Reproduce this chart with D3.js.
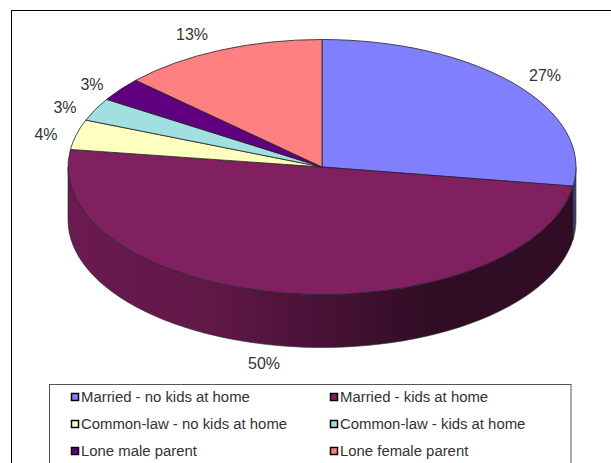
<!DOCTYPE html>
<html>
<head>
<meta charset="utf-8">
<script src="https://cdn.jsdelivr.net/npm/d3@7"></script>
<style>
  html, body { margin: 0; padding: 0; background: #fff; overflow: hidden; }
  svg { display: block; }
  text { font-family: "Liberation Sans", Arial, sans-serif; fill: #333; }
  .pct { font-size: 16px; }
  .item text { font-size: 14.9px; }
</style>
</head>
<body>
<div id="chart"></div>
<script>
var categories = ['Married - no kids at home', 'Married - kids at home',
  'Common-law - no kids at home', 'Common-law - kids at home',
  'Lone male parent', 'Lone female parent'];
var shares = [27.4, 49.8, 3.8, 2.9, 3.0, 13.1];
var colors = ['#8080ff', '#802060', '#ffffc0', '#a0e0e0', '#600080', '#ff8080'];

// where excel left the % labels, relative to the pie centre
var labelDx = [223, -58, -276, -257, -230, -130];
var labelDy = [-92, 196, -33, -60, -83, -133];

var width = 611, height = 463;
var cx = 322, cy = 167, rx = 254, ry = 127.5, depth = 53;

var svg = d3.select('#chart').append('svg')
  .attr('width', width)
  .attr('height', height);

// chart frame, runs off the right and the bottom of the screenshot
svg.append('rect')
  .attr('x', 11.5).attr('y', 10.5)
  .attr('width', width + 20).attr('height', height + 20)
  .attr('fill', '#fff').attr('stroke', '#000').attr('stroke-width', 1);

var defs = svg.append('defs');
var wall = defs.append('linearGradient').attr('id', 'wall')
  .attr('gradientUnits', 'userSpaceOnUse')
  .attr('x1', cx - rx).attr('x2', cx + rx).attr('y1', 0).attr('y2', 0);
wall.append('stop').attr('offset', '0').attr('stop-color', '#6b1a4f');
wall.append('stop').attr('offset', '0.3').attr('stop-color', '#5f1846');
wall.append('stop').attr('offset', '0.5').attr('stop-color', '#481136');
wall.append('stop').attr('offset', '0.72').attr('stop-color', '#300d24');
wall.append('stop').attr('offset', '1').attr('stop-color', '#300d24');

var pie = d3.pie().sort(null).value(function(d) { return d; });
var slices = pie(shares);

// side wall, only the part of the rim facing the viewer
function wallPath(a0, a1) {
  var steps = d3.range(0, 61).map(function(i) { return a0 + (a1 - a0) * i / 60; });
  return d3.area()
    .x(function(a) { return cx + rx * Math.sin(a); })
    .y0(function(a) { return cy - ry * Math.cos(a); })
    .y1(function(a) { return cy - ry * Math.cos(a) + depth; })(steps);
}

var right = Math.PI / 2, left = Math.PI * 1.5;

svg.append('path')
  .attr('d', wallPath(right, slices[0].endAngle))
  .attr('fill', '#404080').attr('stroke', '#333').attr('stroke-width', 0.6);

svg.append('path')
  .attr('d', wallPath(slices[0].endAngle, left))
  .attr('fill', 'url(#wall)').attr('stroke', '#2a2a2a').attr('stroke-width', 0.6);

// top of the pie is a normal arc squashed into an ellipse
var arc = d3.arc().innerRadius(0).outerRadius(rx);

svg.append('g')
  .attr('transform', 'translate(' + cx + ',' + cy + ') scale(1,' + (ry / rx) + ')')
  .selectAll('path')
  .data(slices)
  .enter()
  .append('path')
  .attr('d', arc)
  .attr('fill', function(d, i) { return colors[i]; })
  .attr('stroke', '#222')
  .attr('stroke-width', 0.8)
  .attr('vector-effect', 'non-scaling-stroke');

svg.selectAll('.pct')
  .data(shares)
  .enter()
  .append('text')
  .attr('class', 'pct')
  .attr('x', function(d, i) { return cx + labelDx[i]; })
  .attr('y', function(d, i) { return cy + labelDy[i] + 6; })
  .attr('text-anchor', 'middle')
  .text(function(d) { return Math.round(d) + '%'; });

// legend
svg.append('rect')
  .attr('x', 49.5).attr('y', 384.5)
  .attr('width', 521.5).attr('height', 120)
  .attr('fill', '#fff').attr('stroke', '#555').attr('stroke-width', 1);

var legendCol = d3.scaleOrdinal().domain([0, 1]).range([71, 330]);
var legendRow = d3.scalePoint().domain([0, 1, 2]).range([397, 451]);

var item = svg.selectAll('.item')
  .data(categories)
  .enter()
  .append('g')
  .attr('class', 'item')
  .attr('transform', function(d, i) {
    return 'translate(' + legendCol(i % 2) + ',' + legendRow(Math.floor(i / 2)) + ')';
  });

item.append('rect')
  .attr('x', 0.5).attr('y', -3.5)
  .attr('width', 7).attr('height', 7)
  .attr('fill', function(d, i) { return colors[i]; })
  .attr('stroke', '#000')
  .attr('stroke-width', 1.5);

item.append('text')
  .attr('x', 10)
  .attr('y', 5)
  .text(function(d) { return d; });
</script>
</body>
</html>
